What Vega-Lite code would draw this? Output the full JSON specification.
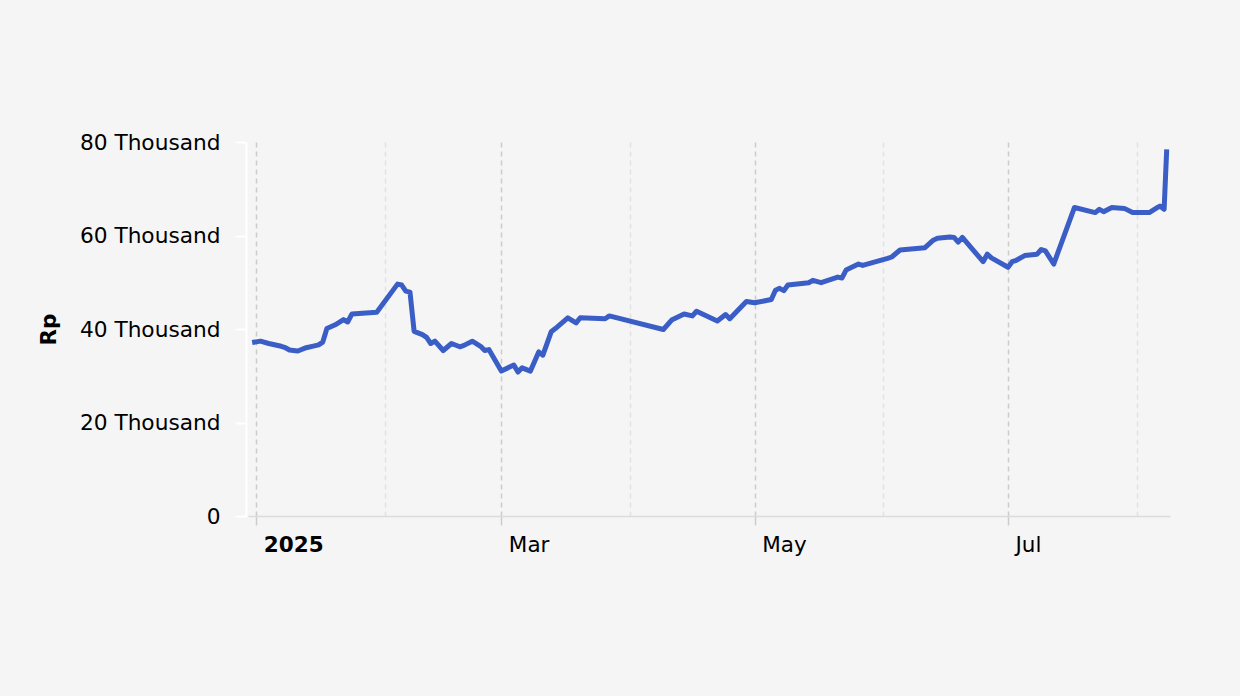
{
  "$schema": "https://vega.github.io/schema/vega-lite/v6.json",
  "autosize": "none",
  "width": 922,
  "height": 374,
  "padding": {"left": 248, "top": 142, "right": 70, "bottom": 180},
  "background": "#f5f5f5",
  "config": {
    "view": {"stroke": null},
    "font": "DejaVu Sans"
  },
  "data": {
    "values": [
      {"date": "2024-12-31T00:00", "price": 37100},
      {"date": "2025-01-02T00:00", "price": 37400},
      {"date": "2025-01-04T00:00", "price": 36900},
      {"date": "2025-01-07T00:00", "price": 36300},
      {"date": "2025-01-08T00:00", "price": 36000},
      {"date": "2025-01-09T00:00", "price": 35500},
      {"date": "2025-01-11T00:00", "price": 35300},
      {"date": "2025-01-13T00:00", "price": 36000},
      {"date": "2025-01-15T00:00", "price": 36400},
      {"date": "2025-01-16T00:00", "price": 36600},
      {"date": "2025-01-17T00:00", "price": 37200},
      {"date": "2025-01-18T00:00", "price": 40100},
      {"date": "2025-01-20T00:00", "price": 40900},
      {"date": "2025-01-22T00:00", "price": 42000},
      {"date": "2025-01-23T00:00", "price": 41500},
      {"date": "2025-01-24T00:00", "price": 43200},
      {"date": "2025-01-30T00:00", "price": 43600},
      {"date": "2025-02-04T00:00", "price": 49600},
      {"date": "2025-02-05T00:00", "price": 49400},
      {"date": "2025-02-06T00:00", "price": 48100},
      {"date": "2025-02-07T00:00", "price": 47900},
      {"date": "2025-02-08T00:00", "price": 39500},
      {"date": "2025-02-10T00:00", "price": 38800},
      {"date": "2025-02-11T00:00", "price": 38200},
      {"date": "2025-02-12T00:00", "price": 36900},
      {"date": "2025-02-13T00:00", "price": 37400},
      {"date": "2025-02-15T00:00", "price": 35400},
      {"date": "2025-02-17T00:00", "price": 36900},
      {"date": "2025-02-19T00:00", "price": 36200},
      {"date": "2025-02-20T00:00", "price": 36500},
      {"date": "2025-02-22T00:00", "price": 37400},
      {"date": "2025-02-24T00:00", "price": 36300},
      {"date": "2025-02-25T00:00", "price": 35400},
      {"date": "2025-02-26T00:00", "price": 35600},
      {"date": "2025-03-01T00:00", "price": 31000},
      {"date": "2025-03-04T00:00", "price": 32300},
      {"date": "2025-03-05T00:00", "price": 30800},
      {"date": "2025-03-06T00:00", "price": 31700},
      {"date": "2025-03-08T00:00", "price": 31000},
      {"date": "2025-03-10T00:00", "price": 35100},
      {"date": "2025-03-11T00:00", "price": 34400},
      {"date": "2025-03-13T00:00", "price": 39400},
      {"date": "2025-03-14T00:00", "price": 40100},
      {"date": "2025-03-17T00:00", "price": 42400},
      {"date": "2025-03-19T00:00", "price": 41300},
      {"date": "2025-03-20T00:00", "price": 42400},
      {"date": "2025-03-26T00:00", "price": 42200},
      {"date": "2025-03-27T00:00", "price": 42800},
      {"date": "2025-04-09T00:00", "price": 39900},
      {"date": "2025-04-11T00:00", "price": 41900},
      {"date": "2025-04-14T00:00", "price": 43200},
      {"date": "2025-04-16T00:00", "price": 42800},
      {"date": "2025-04-17T00:00", "price": 43800},
      {"date": "2025-04-22T00:00", "price": 41700},
      {"date": "2025-04-24T00:00", "price": 43100},
      {"date": "2025-04-25T00:00", "price": 42200},
      {"date": "2025-04-29T00:00", "price": 45900},
      {"date": "2025-05-01T00:00", "price": 45600},
      {"date": "2025-05-05T00:00", "price": 46300},
      {"date": "2025-05-06T00:00", "price": 48300},
      {"date": "2025-05-07T00:00", "price": 48700},
      {"date": "2025-05-08T00:00", "price": 48200},
      {"date": "2025-05-09T00:00", "price": 49400},
      {"date": "2025-05-14T00:00", "price": 49900},
      {"date": "2025-05-15T00:00", "price": 50400},
      {"date": "2025-05-17T00:00", "price": 49900},
      {"date": "2025-05-21T00:00", "price": 51100},
      {"date": "2025-05-22T00:00", "price": 50900},
      {"date": "2025-05-23T00:00", "price": 52600},
      {"date": "2025-05-26T00:00", "price": 53900},
      {"date": "2025-05-27T00:00", "price": 53600},
      {"date": "2025-06-02T00:00", "price": 55100},
      {"date": "2025-06-03T00:00", "price": 55400},
      {"date": "2025-06-05T00:00", "price": 56900},
      {"date": "2025-06-11T00:00", "price": 57400},
      {"date": "2025-06-13T00:00", "price": 59000},
      {"date": "2025-06-14T00:00", "price": 59400},
      {"date": "2025-06-17T00:00", "price": 59700},
      {"date": "2025-06-18T00:00", "price": 59600},
      {"date": "2025-06-19T00:00", "price": 58600},
      {"date": "2025-06-20T00:00", "price": 59600},
      {"date": "2025-06-25T00:00", "price": 54400},
      {"date": "2025-06-26T00:00", "price": 56000},
      {"date": "2025-06-27T00:00", "price": 55200},
      {"date": "2025-07-01T00:00", "price": 53200},
      {"date": "2025-07-02T00:00", "price": 54400},
      {"date": "2025-07-03T00:00", "price": 54700},
      {"date": "2025-07-05T00:00", "price": 55700},
      {"date": "2025-07-08T00:00", "price": 56000},
      {"date": "2025-07-09T00:00", "price": 57000},
      {"date": "2025-07-10T00:00", "price": 56700},
      {"date": "2025-07-12T00:00", "price": 53900},
      {"date": "2025-07-17T00:00", "price": 66000},
      {"date": "2025-07-22T00:00", "price": 64900},
      {"date": "2025-07-23T00:00", "price": 65600},
      {"date": "2025-07-24T00:00", "price": 65100},
      {"date": "2025-07-26T00:00", "price": 66000},
      {"date": "2025-07-29T00:00", "price": 65800},
      {"date": "2025-07-31T00:00", "price": 64900},
      {"date": "2025-08-04T00:00", "price": 64900},
      {"date": "2025-08-06T00:00", "price": 66000},
      {"date": "2025-08-06T14:00", "price": 66300},
      {"date": "2025-08-07T14:00", "price": 65600},
      {"date": "2025-08-08T05:00", "price": 78400}
    ]
  },
  "mark": {"type": "line", "color": "#3a5ec6", "strokeWidth": 5, "strokeJoin": "round", "strokeCap": "butt"},
  "encoding": {
    "x": {
      "field": "date",
      "type": "temporal",
      "scale": {"domain": [{"year": 2024, "month": 12, "date": 30}, {"year": 2025, "month": 8, "date": 9}]},
      "axis": {
        "title": null,
        "values": [
          {"year": 2025, "month": 1, "date": 1},
          {"year": 2025, "month": 2, "date": 1},
          {"year": 2025, "month": 3, "date": 1},
          {"year": 2025, "month": 4, "date": 1},
          {"year": 2025, "month": 5, "date": 1},
          {"year": 2025, "month": 6, "date": 1},
          {"year": 2025, "month": 7, "date": 1},
          {"year": 2025, "month": 8, "date": 1}
        ],
        "labelExpr": "month(datum.value) % 2 == 1 ? '' : (month(datum.value) == 0 ? timeFormat(datum.value, '%Y') : timeFormat(datum.value, '%b'))",
        "labelFontWeight": {"condition": {"test": "month(datum.value) == 0", "value": "bold"}, "value": "normal"},
        "labelFontSize": 21.5,
        "labelColor": "#000000",
        "labelAlign": "left",
        "labelOffset": 7,
        "labelPadding": 9,
        "labelFlush": false,
        "labelOverlap": false,
        "grid": true,
        "gridDash": [5, 4],
        "gridWidth": 1.5,
        "gridColor": {"condition": {"test": "month(datum.value) % 2 == 1", "value": "#e2e2e2"}, "value": "#cccccc"},
        "ticks": true,
        "tickSize": 9,
        "tickWidth": 1.5,
        "tickColor": "#cccccc",
        "tickOpacity": {"condition": {"test": "month(datum.value) % 2 == 1", "value": 0}, "value": 1},
        "domainColor": "#dcdcdc",
        "domainWidth": 1.5
      }
    },
    "y": {
      "field": "price",
      "type": "quantitative",
      "scale": {"domain": [0, 80000], "nice": false},
      "axis": {
        "title": "Rp",
        "titleFontSize": 21.5,
        "titleFontWeight": "bold",
        "titleColor": "#000000",
        "titlePadding": 19,
        "values": [0, 20000, 40000, 60000, 80000],
        "labelExpr": "datum.value == 0 ? '0' : (datum.value / 1000) + ' Thousand'",
        "labelFontSize": 21.7,
        "labelColor": "#000000",
        "labelPadding": 15,
        "grid": false,
        "offset": 2,
        "domainColor": "#ffffff",
        "domainWidth": 2,
        "tickColor": "#ffffff",
        "tickWidth": 2,
        "tickSize": 11
      }
    }
  }
}
